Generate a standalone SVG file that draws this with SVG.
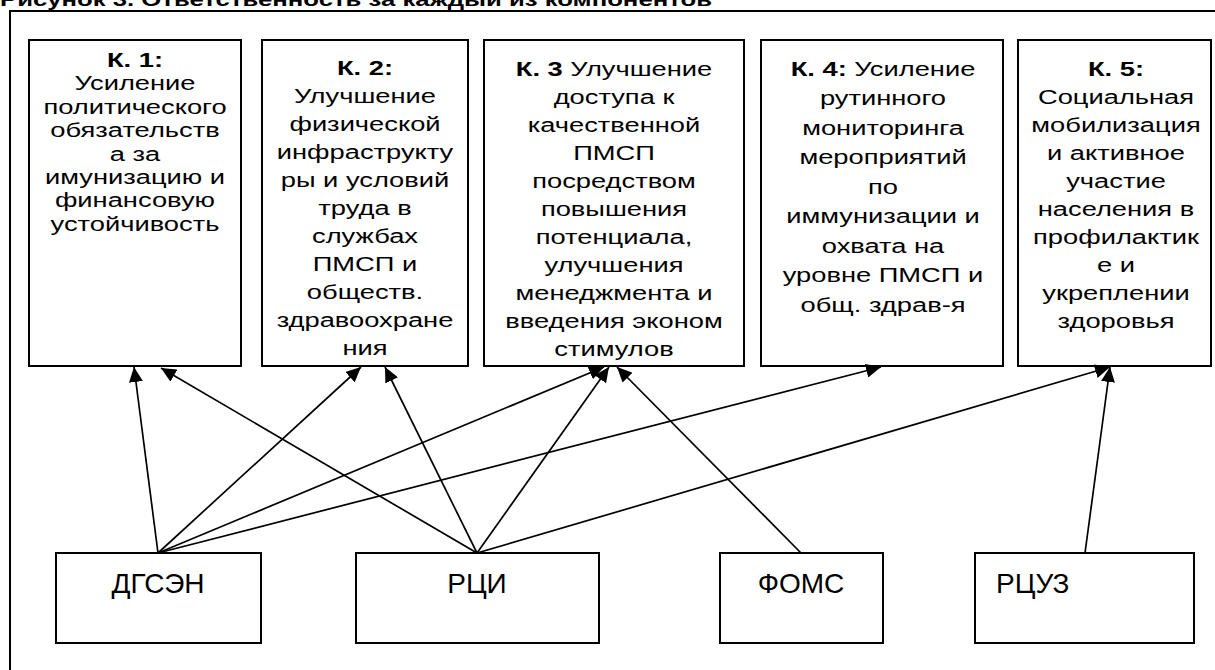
<svg xmlns="http://www.w3.org/2000/svg" width="1215" height="670" viewBox="0 0 1215 670">
<defs>
<style>
.box{fill:#fff;stroke:#000;stroke-width:2}
.frame{fill:none;stroke:#000;stroke-width:2}
.t{font-family:"Liberation Sans",Arial,sans-serif;font-size:21px;fill:#000;text-anchor:middle}
.b{font-weight:bold}
.bt{font-family:"Liberation Sans",Arial,sans-serif;font-size:28px;fill:#000;text-anchor:middle}
.title{font-family:"Liberation Sans",Arial,sans-serif;font-size:19px;font-weight:bold;fill:#000}
.c{stroke:#000;stroke-width:1.7;fill:none;marker-end:url(#ah)}
</style>
<marker id="ah" markerUnits="userSpaceOnUse" markerWidth="16" markerHeight="14" refX="15" refY="7" orient="auto">
<path d="M0,0 L15,7 L0,14 z" fill="#000"/>
</marker>
</defs>
<rect width="1215" height="670" fill="#fff"/>
<text class="title" x="0" y="6" textLength="712" lengthAdjust="spacingAndGlyphs">Рисунок 3. Ответственность за каждый из компонентов</text>
<rect class="frame" x="10" y="11" width="1230" height="700"/>

<g id="k1">
<rect class="box" x="29" y="40" width="212" height="326"/>
<g class="t" transform="translate(135,0) scale(1.3,1)">
<text x="0" y="67"><tspan class="b">К. 1:</tspan></text>
<text x="0" y="90.4">Усиление</text>
<text x="0" y="113.8">политического</text>
<text x="0" y="137.2">обязательств</text>
<text x="0" y="160.6">а за</text>
<text x="0" y="184">имунизацию и</text>
<text x="0" y="207.4">финансовую</text>
<text x="0" y="230.8">устойчивость</text>
</g>
</g>

<g id="k2">
<rect class="box" x="262" y="40" width="206" height="326"/>
<g class="t" transform="translate(365,0) scale(1.3,1)">
<text x="0" y="75"><tspan class="b">К. 2:</tspan></text>
<text x="0" y="103">Улучшение</text>
<text x="0" y="131">физической</text>
<text x="0" y="159">инфраструкту</text>
<text x="0" y="187">ры и условий</text>
<text x="0" y="215">труда в</text>
<text x="0" y="243">службах</text>
<text x="0" y="271">ПМСП и</text>
<text x="0" y="299">обществ.</text>
<text x="0" y="327">здравоохране</text>
<text x="0" y="355">ния</text>
</g>
</g>

<g id="k3">
<rect class="box" x="484" y="40" width="260" height="326"/>
<g class="t" transform="translate(614,0) scale(1.3,1)">
<text x="0" y="76"><tspan class="b">К. 3</tspan> Улучшение</text>
<text x="0" y="104">доступа к</text>
<text x="0" y="132">качественной</text>
<text x="0" y="160">ПМСП</text>
<text x="0" y="188">посредством</text>
<text x="0" y="216">повышения</text>
<text x="0" y="244">потенциала,</text>
<text x="0" y="272">улучшения</text>
<text x="0" y="300">менеджмента и</text>
<text x="0" y="328">введения эконом</text>
<text x="0" y="356">стимулов</text>
</g>
</g>

<g id="k4">
<rect class="box" x="761" y="40" width="242" height="326"/>
<g class="t" transform="translate(883,0) scale(1.3,1)">
<text x="0" y="76"><tspan class="b">К. 4:</tspan> Усиление</text>
<text x="0" y="105.5">рутинного</text>
<text x="0" y="135">мониторинга</text>
<text x="0" y="164.5">мероприятий</text>
<text x="0" y="194">по</text>
<text x="0" y="223.5">иммунизации и</text>
<text x="0" y="253">охвата на</text>
<text x="0" y="282.5">уровне ПМСП и</text>
<text x="0" y="312">общ. здрав-я</text>
</g>
</g>

<g id="k5">
<rect class="box" x="1018" y="40" width="193" height="326"/>
<g class="t" transform="translate(1116,0) scale(1.3,1)">
<text x="0" y="76"><tspan class="b">К. 5:</tspan></text>
<text x="0" y="104">Социальная</text>
<text x="0" y="132">мобилизация</text>
<text x="0" y="160">и активное</text>
<text x="0" y="188">участие</text>
<text x="0" y="216">населения в</text>
<text x="0" y="244">профилактик</text>
<text x="0" y="272">е и</text>
<text x="0" y="300">укреплении</text>
<text x="0" y="328">здоровья</text>
</g>
</g>

<g id="dgsen">
<rect class="box" x="56" y="553" width="205" height="90"/>
<text class="bt" x="158" y="593">ДГСЭН</text>
</g>
<g id="rci">
<rect class="box" x="356" y="553" width="243" height="90"/>
<text class="bt" x="477" y="593">РЦИ</text>
</g>
<g id="foms">
<rect class="box" x="720" y="553" width="163" height="90"/>
<text class="bt" x="801" y="593">ФОМС</text>
</g>
<g id="rcuz">
<rect class="box" x="975" y="553" width="219" height="90"/>
<text class="bt" x="996" y="593" style="text-anchor:start">РЦУЗ</text>
</g>

<g id="connectors">
<line class="c" x1="158" y1="553" x2="134" y2="367"/>
<line class="c" x1="477" y1="553" x2="161" y2="368"/>
<line class="c" x1="158" y1="553" x2="361" y2="367"/>
<line class="c" x1="477" y1="553" x2="385" y2="367"/>
<line class="c" x1="158" y1="553" x2="604" y2="367"/>
<line class="c" x1="477" y1="553" x2="609" y2="367"/>
<line class="c" x1="801" y1="553" x2="617" y2="367"/>
<line class="c" x1="158" y1="553" x2="881" y2="367"/>
<line class="c" x1="477" y1="553" x2="1110" y2="367"/>
<line class="c" x1="1085" y1="553" x2="1110" y2="367"/>
</g>
</svg>
